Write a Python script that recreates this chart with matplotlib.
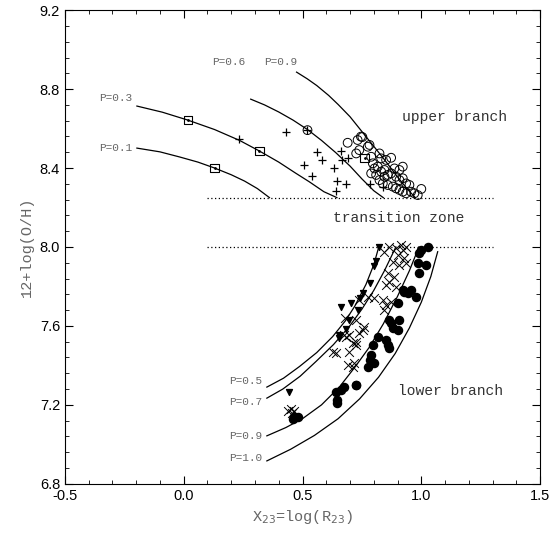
import numpy as np
import matplotlib.pyplot as plt
from matplotlib.ticker import MultipleLocator

plt.rcParams['axes.unicode_minus'] = False

# curvas de calibracion
p01_x = [-0.197, -0.100, -0.017, 0.060, 0.130, 0.200, 0.256, 0.310, 0.361]
p01_y = [8.501, 8.482, 8.456, 8.430, 8.400, 8.366, 8.334, 8.296, 8.25]
p03_x = [-0.197, -0.090, 0.017, 0.130, 0.235, 0.319, 0.400, 0.470, 0.529, 0.590, 0.645]
p03_y = [8.714, 8.683, 8.643, 8.595, 8.540, 8.486, 8.430, 8.375, 8.330, 8.280, 8.25]
p06_x = [0.282, 0.340, 0.400, 0.460, 0.521, 0.580, 0.640, 0.700, 0.750, 0.800, 0.840]
p06_y = [8.749, 8.720, 8.684, 8.643, 8.595, 8.540, 8.478, 8.410, 8.345, 8.285, 8.25]
p09_x = [0.475, 0.520, 0.560, 0.610, 0.650, 0.700, 0.740, 0.790, 0.840, 0.900, 0.940, 0.975]
p09_y = [8.886, 8.852, 8.818, 8.768, 8.722, 8.660, 8.600, 8.525, 8.450, 8.355, 8.295, 8.25]

p05_x = [0.350, 0.420, 0.487, 0.560, 0.627, 0.680, 0.720, 0.767, 0.800, 0.821]
p05_y = [7.290, 7.335, 7.394, 7.465, 7.546, 7.625, 7.700, 7.810, 7.910, 8.000]
p07_x = [0.350, 0.417, 0.490, 0.557, 0.630, 0.697, 0.750, 0.800, 0.845, 0.875, 0.893]
p07_y = [7.234, 7.280, 7.345, 7.420, 7.505, 7.597, 7.685, 7.780, 7.880, 7.955, 8.000]
p09l_x = [0.350, 0.430, 0.500, 0.580, 0.655, 0.720, 0.780, 0.840, 0.900, 0.950, 0.990]
p09l_y = [7.043, 7.085, 7.130, 7.200, 7.290, 7.390, 7.490, 7.610, 7.750, 7.880, 8.000]
p10_x = [0.350, 0.450, 0.550, 0.650, 0.740, 0.820, 0.890, 0.950, 1.000, 1.040, 1.069]
p10_y = [6.916, 6.975, 7.045, 7.130, 7.230, 7.340, 7.460, 7.590, 7.720, 7.850, 7.976]

# rama superior
sq_x = [0.017, 0.130, 0.319, 0.761]
sq_y = [8.643, 8.400, 8.486, 8.451]
plus_x = [0.231, 0.429, 0.521, 0.563, 0.584, 0.508, 0.542, 0.634, 0.647, 0.685,
          0.643, 0.664, 0.668, 0.693, 0.782, 0.840]
plus_y = [8.547, 8.582, 8.592, 8.481, 8.441, 8.415, 8.359, 8.400, 8.334, 8.319,
          8.284, 8.486, 8.441, 8.451, 8.319, 8.304]
oc_x = [0.521, 0.746, 0.732, 0.690, 0.775, 0.782, 0.739, 0.726, 0.789, 0.824,
        0.831, 0.852, 0.873, 0.796, 0.803, 0.817, 0.831, 0.845, 0.859, 0.873,
        0.887, 0.908, 0.922, 0.894, 0.908, 0.922, 0.936, 0.950, 0.824, 0.838,
        0.859, 0.880, 0.894, 0.908, 0.922, 0.936, 0.957, 0.971, 0.985, 1.000,
        0.845, 0.810, 0.789, 0.752]
oc_y = [8.592, 8.559, 8.542, 8.528, 8.508, 8.517, 8.491, 8.474, 8.457, 8.474,
        8.449, 8.441, 8.452, 8.424, 8.398, 8.407, 8.382, 8.390, 8.365, 8.373,
        8.398, 8.390, 8.407, 8.356, 8.339, 8.348, 8.322, 8.314, 8.339, 8.322,
        8.314, 8.306, 8.297, 8.289, 8.280, 8.272, 8.280, 8.272, 8.263, 8.294,
        8.356, 8.365, 8.373, 8.557]

# rama inferior
tri_x = [0.823, 0.810, 0.803, 0.782, 0.753, 0.742, 0.662, 0.733, 0.697, 0.653,
         0.442, 0.685, 0.704, 0.655]
tri_y = [8.002, 7.931, 7.904, 7.816, 7.765, 7.740, 7.695, 7.681, 7.630, 7.538,
         7.267, 7.585, 7.715, 7.555]
xc_x = [0.845, 0.866, 0.894, 0.915, 0.922, 0.936, 0.901, 0.929, 0.880, 0.908,
        0.936, 0.859, 0.887, 0.866, 0.852, 0.894, 0.739, 0.775, 0.803, 0.838,
        0.852, 0.873, 0.845, 0.677, 0.726, 0.760, 0.753, 0.739, 0.697, 0.683,
        0.711, 0.726, 0.697, 0.641, 0.690, 0.711, 0.437, 0.451, 0.466, 0.455,
        0.627, 0.676, 0.718, 0.726]
xc_y = [7.976, 8.002, 7.993, 8.010, 7.985, 8.002, 7.960, 7.943, 7.926, 7.909,
        7.917, 7.867, 7.850, 7.824, 7.808, 7.799, 7.732, 7.749, 7.740, 7.732,
        7.706, 7.723, 7.681, 7.639, 7.630, 7.597, 7.580, 7.563, 7.554, 7.546,
        7.512, 7.504, 7.470, 7.462, 7.402, 7.394, 7.170, 7.180, 7.170, 7.160,
        7.470, 7.554, 7.413, 7.520]
fc_x = [1.027, 0.999, 0.992, 1.020, 0.985, 0.992, 0.929, 0.943, 0.957, 0.978,
        0.922, 0.901, 0.908, 0.866, 0.873, 0.880, 0.901, 0.852, 0.817, 0.859,
        0.866, 0.796, 0.789, 0.782, 0.803, 0.775, 0.726, 0.663, 0.676, 0.642,
        0.644, 0.647, 0.466, 0.480, 0.459, 0.725]
fc_y = [8.002, 7.985, 7.968, 7.909, 7.917, 7.867, 7.774, 7.765, 7.782, 7.749,
        7.782, 7.715, 7.630, 7.630, 7.614, 7.588, 7.580, 7.529, 7.546, 7.504,
        7.487, 7.504, 7.453, 7.428, 7.411, 7.394, 7.301, 7.276, 7.293, 7.267,
        7.225, 7.210, 7.138, 7.141, 7.129, 7.301]

mono = 'Liberation Mono'
gris = '#666666'

fig = plt.figure(figsize=(5.5, 5.34), dpi=100)
ax = fig.add_axes([0.118, 0.094, 0.864, 0.887])

for cx, cy in [(p01_x, p01_y), (p03_x, p03_y), (p06_x, p06_y), (p09_x, p09_y),
               (p05_x, p05_y), (p07_x, p07_y), (p09l_x, p09l_y), (p10_x, p10_y)]:
    ax.plot(cx, cy, color='black', lw=0.9)

# limites de la zona de transicion
ax.plot([0.1, 1.3], [8.25, 8.25], color='black', lw=0.9, ls=(0, (1, 2)))
ax.plot([0.1, 1.3], [8.0, 8.0], color='black', lw=0.9, ls=(0, (1, 2)))

ax.scatter(oc_x, oc_y, s=40, facecolors='none', edgecolors='black', lw=0.7)
ax.scatter(sq_x, sq_y, s=36, marker='s', facecolors='none', edgecolors='black', lw=0.8)
ax.scatter(sq_x, sq_y, s=1, color='black')
ax.scatter(plus_x, plus_y, s=40, marker='+', color='black', lw=0.9)
ax.scatter(tri_x, tri_y, s=18, marker='v', color='black')
ax.scatter(xc_x, xc_y, s=40, marker='x', color='black', lw=0.7)
ax.scatter(fc_x, fc_y, s=34, marker='o', color='black')

# etiquetas de las curvas
ax.text(-0.215, 8.755, 'P=0.3', family=mono, fontsize=8, color=gris, ha='right', va='center')
ax.text(-0.215, 8.500, 'P=0.1', family=mono, fontsize=8, color=gris, ha='right', va='center')
ax.text(0.12, 8.937, 'P=0.6', family=mono, fontsize=8, color=gris, ha='left', va='center')
ax.text(0.34, 8.937, 'P=0.9', family=mono, fontsize=8, color=gris, ha='left', va='center')
ax.text(0.33, 7.32, 'P=0.5', family=mono, fontsize=8, color=gris, ha='right', va='center')
ax.text(0.33, 7.217, 'P=0.7', family=mono, fontsize=8, color=gris, ha='right', va='center')
ax.text(0.33, 7.043, 'P=0.9', family=mono, fontsize=8, color=gris, ha='right', va='center')
ax.text(0.33, 6.933, 'P=1.0', family=mono, fontsize=8, color=gris, ha='right', va='center')

ax.text(0.92, 8.66, 'upper branch', family=mono, fontsize=10.5, color='#333333', va='center')
ax.text(0.63, 8.147, 'transition zone', family=mono, fontsize=10.5, color='#333333', va='center')
ax.text(0.90, 7.27, 'lower branch', family=mono, fontsize=10.5, color='#333333', va='center')

ax.set_xlim(-0.5, 1.5)
ax.set_ylim(6.8, 9.2)
ax.xaxis.set_major_locator(MultipleLocator(0.5))
ax.xaxis.set_minor_locator(MultipleLocator(0.1))
ax.yaxis.set_major_locator(MultipleLocator(0.4))
ax.yaxis.set_minor_locator(MultipleLocator(0.08))
ax.xaxis.set_major_formatter(plt.FormatStrFormatter('%.1f'))
ax.yaxis.set_major_formatter(plt.FormatStrFormatter('%.1f'))
ax.tick_params(which='both', direction='in', top=True, right=True, labelsize=10.5)
ax.tick_params(which='major', length=6)
ax.tick_params(which='minor', length=3)
for lab in ax.get_xticklabels() + ax.get_yticklabels():
    lab.set_family('Liberation Sans')

ax.set_xlabel(r'X$_{23}$=log(R$_{23}$)', family=mono, fontsize=11, color=gris)
ax.set_ylabel('12+log(O/H)', family=mono, fontsize=11, color=gris)

fig.savefig('out.png', dpi=100)
